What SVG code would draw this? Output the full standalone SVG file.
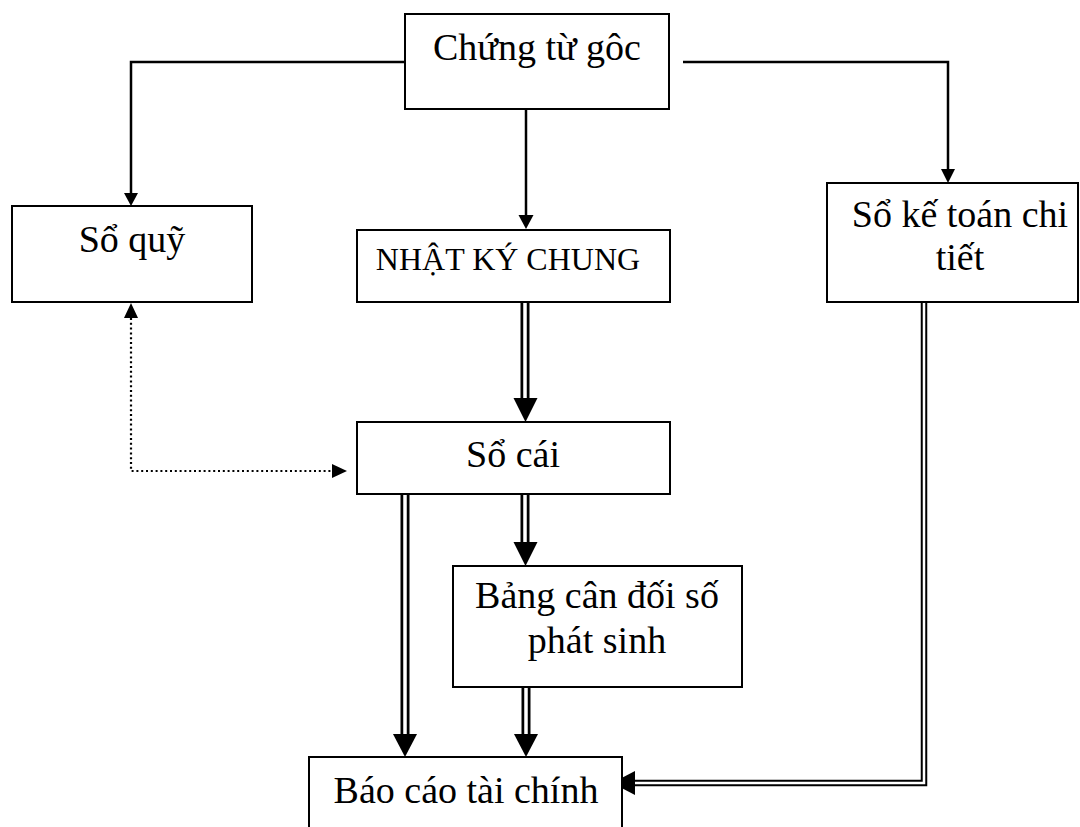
<svg xmlns="http://www.w3.org/2000/svg" width="1080" height="827" viewBox="0 0 1080 827">
  <style>
    .box { fill: #fff; stroke: #000; stroke-width: 2; }
    .lbl { font-family: "Liberation Serif", "Times New Roman", serif; font-size: 38px; fill: #000; text-anchor: middle; }
    .small { font-size: 32px; }
    .line { fill: none; stroke: #000; stroke-width: 2.5; }
    .dot { fill: none; stroke: #000; stroke-width: 2.2; stroke-dasharray: 2 2.8; }
    .dblOuter { fill: none; stroke: #000; stroke-width: 9; stroke-linejoin: miter; }
    .dblInner { fill: none; stroke: #fff; stroke-width: 3.5; stroke-linejoin: miter; }
    .dblOuterThin { fill: none; stroke: #000; stroke-width: 6.5; stroke-linejoin: miter; }
    .dblInnerThin { fill: none; stroke: #fff; stroke-width: 2.5; stroke-linejoin: miter; }
    .head { fill: #000; }
  </style>

  <!-- connectors -->
  <g id="connectors">
    <!-- single-line arrows from the source documents -->
    <polyline class="line" points="405,62 131,62 131,194"/>
    <polygon class="head" points="124,193 138,193 131,206"/>
    <polyline class="line" points="526,109 526,216"/>
    <polygon class="head" points="518.5,215 533.5,215 526,229"/>
    <polyline class="line" points="683,62 948,62 948,170"/>
    <polygon class="head" points="941,169 955,169 948,183"/>

    <!-- dotted two-way link between cash book and ledger -->
    <polyline class="dot" points="131,318 131,471 333,471"/>
    <polygon class="head" points="124,318 138,318 131,303"/>
    <polygon class="head" points="332,464 332,478 347,471"/>

    <!-- double-line flows -->
    <path class="dblOuter" d="M525,302 V400"/>
    <path class="dblInner" d="M525,302 V400"/>
    <polygon class="head" points="513.5,398 537.5,398 525.5,422"/>

    <path class="dblOuter" d="M525,494 V544"/>
    <path class="dblInner" d="M525,494 V544"/>
    <polygon class="head" points="513.5,542 537.5,542 525.5,566"/>

    <path class="dblOuter" d="M405,494 V736"/>
    <path class="dblInner" d="M405,494 V736"/>
    <polygon class="head" points="393,734 417,734 405,757"/>

    <path class="dblOuter" d="M526,687 V736"/>
    <path class="dblInner" d="M526,687 V736"/>
    <polygon class="head" points="514,734 538,734 526,757"/>

    <path class="dblOuterThin" d="M924,302 V783 H632"/>
    <path class="dblInnerThin" d="M924,302 V783 H632"/>
    <polygon class="head" points="635,771 635,795 612,783"/>
  </g>

  <!-- nodes -->
  <g id="chung-tu-goc">
    <rect class="box" x="405" y="14" width="264" height="95"/>
    <text class="lbl" x="537" y="60">Chứng từ gôc</text>
  </g>

  <g id="so-quy">
    <rect class="box" x="12" y="206" width="240" height="96"/>
    <text class="lbl" x="132" y="252">Sổ quỹ</text>
  </g>

  <g id="nhat-ky-chung">
    <rect class="box" x="357" y="230" width="313" height="72"/>
    <text class="lbl small" x="508" y="270">NHẬT KÝ CHUNG</text>
  </g>

  <g id="so-ke-toan-chi-tiet">
    <rect class="box" x="827" y="183" width="251" height="119"/>
    <text class="lbl" x="960" y="227">Sổ kế toán chi</text>
    <text class="lbl" x="960" y="270">tiết</text>
  </g>

  <g id="so-cai">
    <rect class="box" x="357" y="422" width="313" height="72"/>
    <text class="lbl" x="513" y="467">Sổ cái</text>
  </g>

  <g id="bang-can-doi">
    <rect class="box" x="453" y="566" width="289" height="121"/>
    <text class="lbl" x="597" y="608">Bảng cân đối số</text>
    <text class="lbl" x="597" y="653">phát sinh</text>
  </g>

  <g id="bao-cao-tai-chinh">
    <rect class="box" x="309" y="757" width="313" height="90"/>
    <text class="lbl" x="466" y="803">Báo cáo tài chính</text>
  </g>
</svg>
